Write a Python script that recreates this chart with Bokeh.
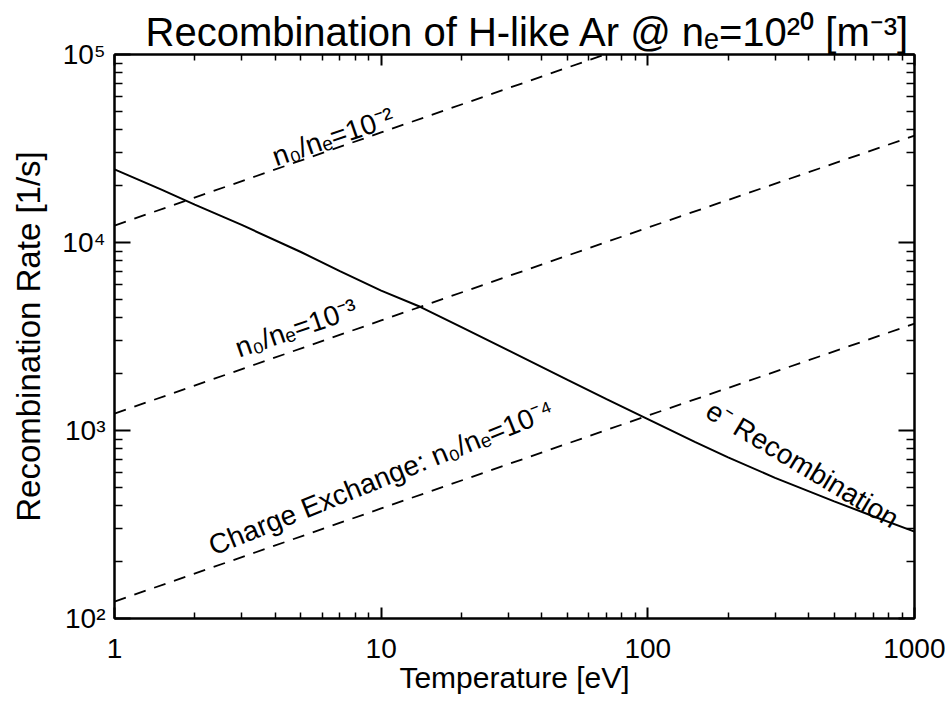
import math
from bokeh.plotting import figure
from bokeh.models import LogAxis, FixedTicker, Range1d
from bokeh.core.properties import value
from bokeh.embed import file_html
from bokeh.resources import INLINE

# ---- data ----
temperature_rr = [1, 1.5, 2, 3, 5, 7, 10, 14, 20, 30, 50, 70, 100, 150, 200, 300, 500, 700, 1000]
rate_rr = [2.45e4, 1.91e4, 1.59e4, 1.24e4, 8.9e3, 7.05e3, 5.55e3, 4.55e3, 3.55e3, 2.67e3,
           1.86e3, 1.47e3, 1.15e3, 8.7e2, 7.2e2, 5.6e2, 4.2e2, 3.5e2, 2.9e2]

temperature_cx = [1, 10, 100, 1000]
rate_cx_1e2 = [1.23e4, 3.85e4, 1.2e5, 3.7e5]
rate_cx_1e3 = [1.23e3, 3.85e3, 1.2e4, 3.7e4]
rate_cx_1e4 = [1.23e2, 3.85e2, 1.2e3, 3.7e3]

x_ticks = [1, 10, 100, 1000]
x_tick_labels = ["1", "10", "100", "1000"]
y_ticks = [100, 1000, 10000, 100000]
y_tick_labels = ["10²", "10³", "10⁴", "10⁵"]

label_texts = ["n₀/nₑ=10⁻²", "n₀/nₑ=10⁻³", "Charge Exchange: n₀/nₑ=10⁻⁴", "e⁻ Recombination"]
label_x = [6.6, 4.8, 10.0, 380]
label_y = [3.65e4, 3.5e3, 5.6e2, 6.6e2]
label_angle_deg = [19, 19, 22, -31]

title_text = "Recombination of H-like Ar @ nₑ=10²⁰ [m⁻³]"
x_label = "Temperature [eV]"
y_label = "Recombination Rate [1/s]"

FONT = "Liberation Sans"

x_minor = [m * 10 ** k for k in range(3) for m in range(2, 10)]
y_minor = [m * 10 ** k for k in range(2, 5) for m in range(2, 10)]

p = figure(width=945, height=700, x_axis_type="log", y_axis_type="log",
           x_range=Range1d(1, 1000), y_range=Range1d(100, 1e5),
           output_backend="svg", toolbar_location=None,
           min_border_left=114, min_border_right=31, min_border_top=54, min_border_bottom=82)

p.title.text = title_text
p.title.align = "left"
p.title.offset = 31
p.title.text_font = FONT
p.title.text_font_size = "40px"
p.title.text_font_style = "normal"
p.title.text_color = "black"
p.title.standoff = 2

p.xgrid.visible = False
p.ygrid.visible = False
p.outline_line_color = "black"
p.outline_line_width = 2
p.background_fill_color = "white"
p.border_fill_color = "white"


def style_axis(ax, ticks, minor, major_in, minor_in, labels=None):
    ax.ticker = FixedTicker(ticks=ticks, minor_ticks=minor)
    ax.axis_line_color = "black"
    ax.axis_line_width = 2
    ax.major_tick_line_color = "black"
    ax.major_tick_line_width = 2
    ax.minor_tick_line_color = "black"
    ax.minor_tick_line_width = 1.5
    ax.major_tick_in = major_in
    ax.major_tick_out = 0
    ax.minor_tick_in = minor_in
    ax.minor_tick_out = 0
    if labels is None:
        ax.major_label_overrides = {t: "" for t in ticks}
        ax.major_label_text_font_size = "1px"
        ax.major_label_standoff = 0
    else:
        ax.major_label_overrides = {t: s for t, s in zip(ticks, labels)}
        ax.major_label_text_font = FONT
        ax.major_label_text_font_size = "28px"
        ax.major_label_text_color = "black"
    ax.axis_label_text_font = FONT
    ax.axis_label_text_font_style = "normal"
    ax.axis_label_text_color = "black"


xa = p.xaxis[0]
style_axis(xa, x_ticks, x_minor, 11, 6, x_tick_labels)
xa.axis_label = x_label
xa.axis_label_text_font_size = "30px"
xa.major_label_standoff = 20
xa.axis_label_standoff = 0

ya = p.yaxis[0]
style_axis(ya, y_ticks, y_minor, 16, 8, y_tick_labels)
ya.axis_label = y_label
ya.axis_label_text_font_size = "33px"
ya.major_label_standoff = 9
ya.axis_label_standoff = 12

top_axis = LogAxis()
style_axis(top_axis, x_ticks, x_minor, 11, 6)
p.add_layout(top_axis, "above")

right_axis = LogAxis()
style_axis(right_axis, y_ticks, y_minor, 16, 8)
p.add_layout(right_axis, "right")

p.line(temperature_rr, rate_rr, line_color="black", line_width=2)
for series in (rate_cx_1e2, rate_cx_1e3, rate_cx_1e4):
    p.line(temperature_cx, series, line_color="black", line_width=1.8, line_dash="12 9")

p.text(x=label_x, y=label_y, text=label_texts,
       angle=[math.radians(a) for a in label_angle_deg],
       text_align="center", text_baseline="middle",
       text_font=value(FONT), text_font_size=value("28px"), text_color="black")

open("out.html", "w").write(file_html(p, INLINE))
